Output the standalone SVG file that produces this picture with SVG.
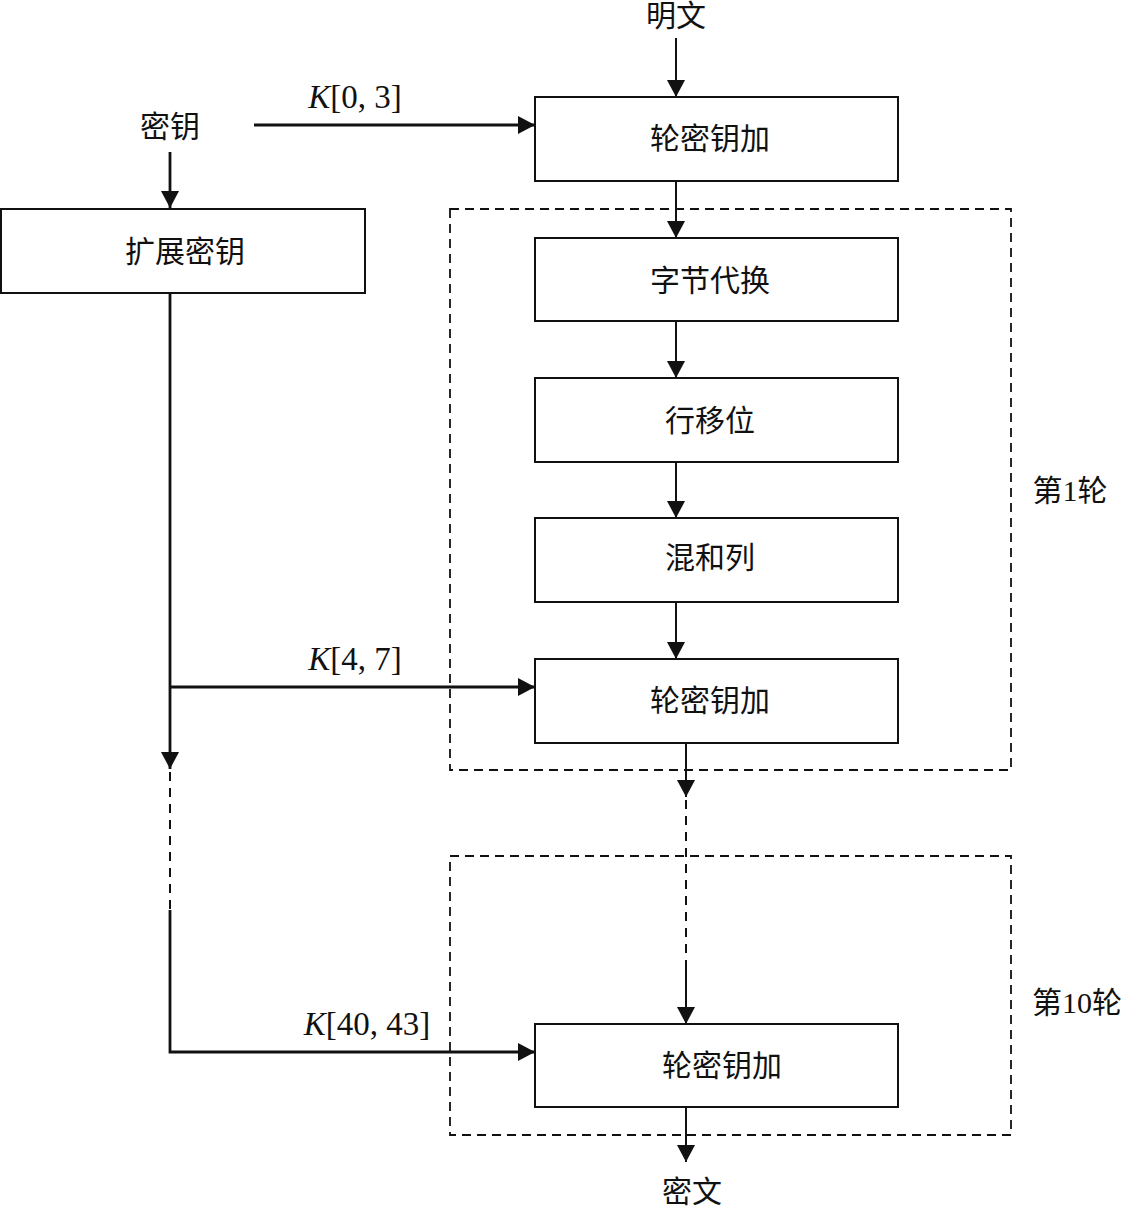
<svg xmlns="http://www.w3.org/2000/svg" width="1124" height="1207" viewBox="0 0 1124 1207">
<defs>
<marker id="ah" viewBox="0 0 18 20" markerWidth="18" markerHeight="20" refX="17" refY="10" orient="auto" markerUnits="userSpaceOnUse">
<path d="M0,1 L17,10 L0,19 z" fill="#111"/>
</marker>
</defs>
<style>
.box{fill:#fff;stroke:#111;stroke-width:2}
.grp{fill:none;stroke:#111;stroke-width:1.8;stroke-dasharray:9 6}
.ln{fill:none;stroke:#111;stroke-width:2}
.kl{fill:none;stroke:#111;stroke-width:2.8}
.dl{fill:none;stroke:#111;stroke-width:2;stroke-dasharray:9 7}
text{font-family:"Liberation Serif","Noto Sans CJK SC",serif;font-size:30px;fill:#111;text-anchor:middle;dominant-baseline:central}
.k{font-size:33px}
</style>
<rect width="1124" height="1207" fill="#fff"/>
<g id="round1-frame"><rect class="grp" x="450" y="209" width="561" height="561"/><text x="1070" y="490">第1轮</text></g>
<g id="round10-frame"><rect class="grp" x="450" y="856" width="561" height="279"/><text x="1077" y="1002">第10轮</text></g>
<g id="connectors">
<line class="ln" x1="676" y1="38" x2="676" y2="97" marker-end="url(#ah)"/>
<line class="kl" x1="254" y1="125" x2="535" y2="125" marker-end="url(#ah)"/>
<line class="kl" x1="170" y1="152" x2="170" y2="208" marker-end="url(#ah)"/>
<line class="ln" x1="676" y1="181" x2="676" y2="238" marker-end="url(#ah)"/>
<line class="ln" x1="676" y1="321" x2="676" y2="378" marker-end="url(#ah)"/>
<line class="ln" x1="676" y1="462" x2="676" y2="518" marker-end="url(#ah)"/>
<line class="ln" x1="676" y1="602" x2="676" y2="659" marker-end="url(#ah)"/>
<line class="kl" x1="170" y1="293" x2="170" y2="769" marker-end="url(#ah)"/>
<line class="kl" x1="170" y1="687" x2="535" y2="687" marker-end="url(#ah)"/>
<line class="dl" x1="170" y1="772" x2="170" y2="910"/>
<polyline class="kl" points="170,910 170,1052 535,1052" marker-end="url(#ah)"/>
<line class="ln" x1="686" y1="743" x2="686" y2="797" marker-end="url(#ah)"/>
<line class="dl" x1="686" y1="800" x2="686" y2="963"/>
<line class="ln" x1="686" y1="963" x2="686" y2="1024" marker-end="url(#ah)"/>
<line class="ln" x1="686" y1="1107" x2="686" y2="1162" marker-end="url(#ah)"/>
</g>
<g id="plaintext"><text x="676" y="15">明文</text></g>
<g id="key"><text x="170" y="126">密钥</text></g>
<g id="k03"><text class="k" x="355" y="97"><tspan font-style="italic">K</tspan>[0, 3]</text></g>
<g id="ark0"><rect class="box" x="535" y="97" width="363" height="84"/><text x="710" y="138">轮密钥加</text></g>
<g id="keyexp"><rect class="box" x="1" y="209" width="364" height="84"/><text x="185" y="251">扩展密钥</text></g>
<g id="subbytes"><rect class="box" x="535" y="238" width="363" height="83"/><text x="710" y="280">字节代换</text></g>
<g id="shiftrows"><rect class="box" x="535" y="378" width="363" height="84"/><text x="710" y="420">行移位</text></g>
<g id="mixcols"><rect class="box" x="535" y="518" width="363" height="84"/><text x="710" y="557">混和列</text></g>
<g id="k47"><text class="k" x="355" y="659"><tspan font-style="italic">K</tspan>[4, 7]</text></g>
<g id="ark1"><rect class="box" x="535" y="659" width="363" height="84"/><text x="710" y="700">轮密钥加</text></g>
<g id="k4043"><text class="k" x="367" y="1024"><tspan font-style="italic">K</tspan>[40, 43]</text></g>
<g id="ark10"><rect class="box" x="535" y="1024" width="363" height="83"/><text x="722" y="1065">轮密钥加</text></g>
<g id="ciphertext"><text x="692" y="1191">密文</text></g>
</svg>
